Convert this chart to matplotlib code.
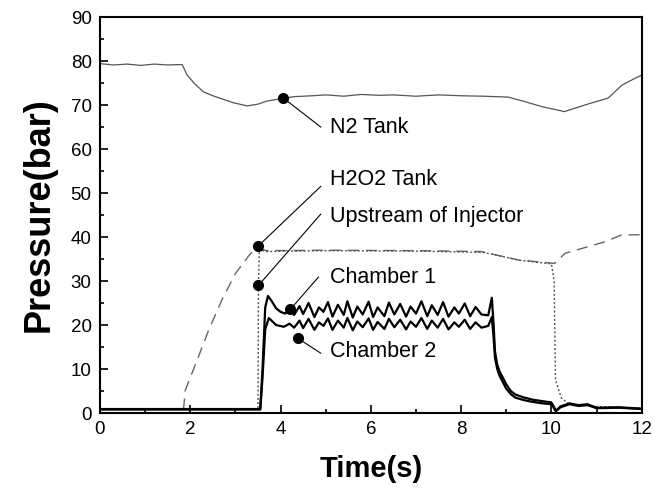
import matplotlib
matplotlib.use("Agg")
import matplotlib.pyplot as plt
from matplotlib.ticker import MultipleLocator

plt.rcParams["font.family"] = ["Liberation Sans", "DejaVu Sans"]

# N2 tank pressure (bar)
n2_t = [0, 0.3, 0.6, 0.9, 1.2, 1.5, 1.82, 1.93, 2.1, 2.29, 2.5, 2.67, 2.96, 3.26,
        3.5, 3.7, 4.06, 4.3, 4.7, 5.0, 5.4, 5.78, 6.2, 6.5, 7.0, 7.5, 8.0, 8.5,
        9.04, 9.4, 9.8, 10.29, 10.74, 11.26, 11.56, 11.8, 12.0]
n2_p = [79.4, 79.1, 79.3, 79.0, 79.3, 79.1, 79.2, 76.8, 74.8, 73.0, 72.1, 71.5,
        70.5, 69.8, 70.2, 70.9, 71.5, 71.9, 72.1, 72.3, 72.0, 72.4, 72.2, 72.3,
        72.0, 72.3, 72.1, 72.0, 71.8, 70.8, 69.6, 68.5, 70.0, 71.6, 74.5, 75.8,
        76.8]

# H2O2 tank pressure
h2o2_t = [1.85, 1.89, 2.15, 2.41, 2.7, 3.0, 3.33, 3.48, 3.7, 5.0, 7.0, 8.44,
          9.26, 10.07, 10.3, 10.81, 11.18, 11.56, 11.93, 12.0]
h2o2_p = [0.8, 5.2, 12.0, 18.9, 25.7, 31.7, 36.2, 37.4, 36.9, 37.0, 36.9,
          36.7, 34.8, 34.0, 36.3, 37.8, 38.9, 40.5, 40.5, 40.5]

# upstream of injector
up_t = [0, 3.5, 3.51, 3.53, 3.65, 5.0, 7.0, 8.5, 9.3, 10.0, 10.06, 10.09, 10.22,
        10.4, 11.0, 12.0]
up_p = [1.0, 1.0, 29.0, 37.3, 36.7, 36.9, 36.8, 36.5, 34.7, 33.9, 30.0, 7.5, 3.4,
        2.0, 1.5, 1.0]

# chamber 1 / chamber 2
ch1_t = [0, 3.55, 3.6, 3.66, 3.72, 3.8, 3.9, 4.0, 4.1, 4.2, 4.3, 4.42, 4.5,
         4.62, 4.75, 4.85, 4.95, 5.05, 5.15, 5.27, 5.4, 5.48, 5.6, 5.7, 5.82,
         5.95, 6.05, 6.15, 6.3, 6.4, 6.52, 6.65, 6.78, 6.88, 7.0, 7.12, 7.25,
         7.35, 7.48, 7.6, 7.72, 7.85, 7.95, 8.08, 8.2, 8.32, 8.45, 8.6, 8.68,
         8.72, 8.75, 8.8, 8.85, 8.9, 9.0, 9.1, 9.2, 9.4, 9.6, 9.8, 10.0, 10.05,
         10.1, 10.2, 10.4, 10.6, 10.8, 11.0, 11.5, 12.0]
ch1_p = [0.9, 0.9, 10.0, 24.0, 26.6, 25.5, 23.8, 23.0, 22.6, 23.5, 22.3, 24.3,
         22.5, 25.0, 21.8, 24.0, 23.0, 25.2, 21.9, 24.6, 22.3, 25.4, 21.7, 24.2,
         22.4, 25.3, 21.8, 24.0, 22.0, 25.1, 22.4, 24.8, 21.9, 24.2, 22.6, 25.4,
         22.0, 24.5, 22.3, 25.2, 21.9, 24.0, 22.6, 24.9, 22.0, 24.1, 22.4, 22.2,
         26.2, 20.0, 14.0, 11.0, 9.5, 8.5, 6.5, 5.0, 4.2, 3.5, 3.0, 2.7, 2.4,
         1.5, 0.5, 1.5, 2.2, 1.8, 2.0, 1.2, 1.3, 1.0]
ch2_t = [0, 3.55, 3.6, 3.66, 3.74, 3.8, 3.9, 4.07, 4.2, 4.3, 4.42, 4.5, 4.62,
         4.75, 4.85, 4.95, 5.05, 5.15, 5.27, 5.4, 5.48, 5.6, 5.7, 5.82, 5.95,
         6.05, 6.15, 6.3, 6.4, 6.52, 6.65, 6.78, 6.88, 7.0, 7.12, 7.25, 7.35,
         7.48, 7.6, 7.72, 7.85, 7.95, 8.08, 8.2, 8.32, 8.45, 8.6, 8.68, 8.72,
         8.75, 8.8, 8.85, 8.9, 9.0, 9.1, 9.2, 9.4, 9.6, 9.8, 10.0, 10.05, 10.1,
         10.2, 10.4, 10.6, 10.8, 11.0, 11.5, 12.0]
ch2_p = [0.8, 0.8, 8.0, 19.0, 21.6, 21.0, 20.0, 19.6, 20.3, 19.4, 21.0, 19.3,
         21.4, 18.9, 20.6, 19.8, 21.5, 18.9, 21.0, 19.4, 21.6, 18.8, 20.8, 19.5,
         21.5, 18.9, 20.7, 19.1, 21.4, 19.5, 21.2, 19.0, 20.8, 19.6, 21.6, 19.1,
         21.0, 19.4, 21.4, 19.0, 20.6, 19.6, 21.2, 19.1, 20.6, 19.4, 19.8, 21.8,
         17.0, 12.5, 10.0, 8.5, 7.5, 5.5, 4.3, 3.5, 2.9, 2.5, 2.2, 2.0, 1.2, 0.4,
         1.3, 2.0, 1.6, 1.8, 1.1, 1.2, 0.9]

# annotation: label, marker point (t, p), leader end (t, p)
notes = [
    ("N2 Tank", (4.06, 71.6), (4.89, 65.0)),
    ("H2O2 Tank", (3.51, 38.0), (4.89, 51.5)),
    ("Upstream of Injector", (3.51, 29.0), (4.89, 45.2)),
    ("Chamber 1", (4.22, 23.6), (4.84, 30.9)),
    ("Chamber 2", (4.38, 17.0), (4.89, 13.6)),
]
note_y = [64.8, 53.0, 44.6, 30.9, 13.9]

fig = plt.figure(figsize=(6.54, 4.90), dpi=100)
ax = fig.add_axes([0.1529, 0.1571, 0.8283, 0.8082])

ax.plot(n2_t, n2_p, color="#555555", lw=0.9)
ax.plot(h2o2_t, h2o2_p, color="#666666", lw=1.0, ls=(0, (8, 5)))
ax.plot(up_t, up_p, color="#555555", lw=1.0, ls=(0, (1.5, 1.5)))
ax.plot(ch1_t, ch1_p, color="black", lw=1.6)
ax.plot(ch2_t, ch2_p, color="black", lw=1.6)

for (label, pt, end), ty in zip(notes, note_y):
    ax.plot([pt[0], end[0]], [pt[1], end[1]], color="black", lw=0.8)
    ax.plot(pt[0], pt[1], "o", color="black", ms=7)
    ax.text(5.1, ty, label, fontsize=15.5, va="center", ha="left")

ax.set_xlim(0, 12)
ax.set_ylim(0, 90)
ax.xaxis.set_major_locator(MultipleLocator(2))
ax.xaxis.set_minor_locator(MultipleLocator(1))
ax.yaxis.set_major_locator(MultipleLocator(10))
ax.yaxis.set_minor_locator(MultipleLocator(5))
ax.tick_params(which="both", direction="in", top=False, right=False,
               labelsize=13.5, width=1.2)
ax.tick_params(which="major", length=6, pad=6)
ax.tick_params(which="minor", length=3)
for s in ax.spines.values():
    s.set_linewidth(1.5)

ax.set_xlabel("Time(s)", fontsize=21, fontweight="bold", labelpad=12)
ax.set_ylabel("Pressure(bar)", fontsize=26, fontweight="bold", labelpad=10)

fig.savefig("out.png", dpi=100)
